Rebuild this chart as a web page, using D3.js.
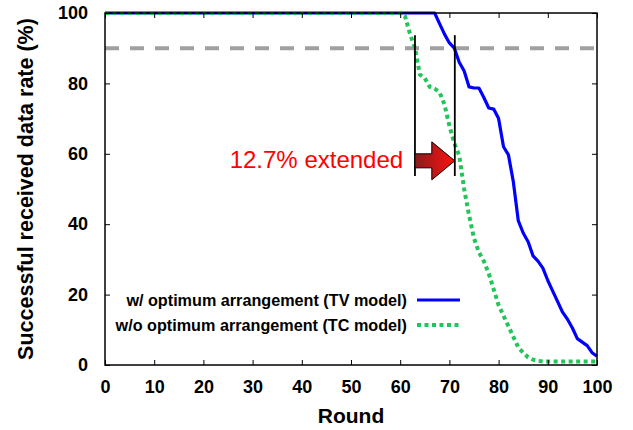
<!DOCTYPE html>
<html>
<head>
<meta charset="utf-8">
<script src="https://cdn.jsdelivr.net/npm/d3@7"></script>
<style>
  body { margin: 0; background: #fff; }
  text { font-family: "Liberation Sans", Arial, sans-serif; }
</style>
</head>
<body>
<div id="chart"></div>
<script>
// data
const tvPoints = [
  [0, 100], [66, 100], [67, 100], [68, 97], [69, 94], [70, 91.5], [71, 90],
  [72, 86], [73, 83.5], [74, 79], [75, 78.7], [76, 78.7], [77, 76], [78, 73],
  [79, 72.7], [80, 70], [81, 62], [82, 59.7], [83, 52], [84, 41], [85, 37.5],
  [86, 35], [87, 31], [88, 29.5], [89, 27.5], [90, 24], [91, 21], [92, 18],
  [93, 15], [94, 13], [95, 10.5], [96, 7.5], [97, 6.5], [98, 5.5], [99, 3.5],
  [100, 2.5]
];
const tcPoints = [
  [0, 100], [60, 100], [61, 99], [62, 94], [63, 90], [64, 82.5], [65, 81.5],
  [66, 79], [67, 78.5], [68, 77.5], [69, 74], [70, 68], [71, 63], [72, 59.5],
  [73, 50], [74, 42.5], [75, 36], [76, 32], [77, 29.5], [78, 26], [79, 21.5],
  [80, 17], [81, 14], [82, 11], [83, 8], [84, 5], [85, 3.5], [86, 2.2],
  [87, 1.5], [88, 1.2], [89, 1], [100, 1]
];
const seriesNames = [
  "w/ optimum arrangement (TV model)",
  "w/o optimum arrangement (TC model)"
];
const xTicks = d3.range(0, 101, 10);
const yTicks = d3.range(0, 101, 20);
const thresholdLevel = 90;
// annotation: marker lines at the two rounds where rate hits 90%
const markRounds = [63, 71.1];
const markSpan = [93.7, 53.7];
const arrowLevel = 58;
const annotText = "12.7% extended";

// set the dimensions and margins of the graph
const margin = { top: 13, right: 36, bottom: 65, left: 105 },
  width = 633 - margin.left - margin.right,
  height = 430 - margin.top - margin.bottom;

const svgRoot = d3
  .select("#chart")
  .append("svg")
  .attr("width", 633)
  .attr("height", 430);

const defs = svgRoot.append("defs");
const grad = defs.append("linearGradient").attr("id", "arrowGrad")
  .attr("x1", "0%").attr("x2", "100%").attr("y1", "0%").attr("y2", "0%");
grad.append("stop").attr("offset", "0%").attr("stop-color", "#8a1c1c");
grad.append("stop").attr("offset", "100%").attr("stop-color", "#ff1010");

const svg = svgRoot.append("g")
  .attr("transform", `translate(${margin.left}, ${margin.top})`);

const x = d3.scaleLinear().domain([0, 100]).range([0, width]);
const y = d3.scaleLinear().domain([0, 100]).range([height, 0]);

// threshold dashed line
svg.append("line")
  .attr("x1", x(0)).attr("x2", x(100))
  .attr("y1", y(thresholdLevel)).attr("y2", y(thresholdLevel))
  .attr("stroke", "#a0a0a0")
  .attr("stroke-width", 4)
  .attr("stroke-dasharray", "14,11");

const line = d3.line()
  .x(function (d) { return x(d[0]); })
  .y(function (d) { return y(d[1]); });

// blue solid line
svg.append("path")
  .datum(tvPoints)
  .attr("fill", "none")
  .attr("stroke", "#0000ff")
  .attr("stroke-width", 3.2)
  .attr("stroke-linejoin", "round")
  .attr("d", line);

// green dotted line
svg.append("path")
  .datum(tcPoints)
  .attr("fill", "none")
  .attr("stroke", "#22c55a")
  .attr("stroke-width", 4)
  .attr("stroke-dasharray", "4,3.5")
  .attr("d", line);

// marker lines
markRounds.forEach(function (r) {
  svg.append("line")
    .attr("x1", x(r)).attr("x2", x(r))
    .attr("y1", y(markSpan[0])).attr("y2", y(markSpan[1]))
    .attr("stroke", "#000")
    .attr("stroke-width", 1.8);
});

// arrow
const ax0 = x(markRounds[0]), ax1 = x(markRounds[1]), ay = y(arrowLevel);
const headW = 23, shaftH = 7, headH = 19;
svg.append("path")
  .attr("d", d3.line()([
    [ax0, ay - shaftH], [ax1 - headW, ay - shaftH], [ax1 - headW, ay - headH],
    [ax1, ay], [ax1 - headW, ay + headH], [ax1 - headW, ay + shaftH],
    [ax0, ay + shaftH]
  ]) + "Z")
  .attr("fill", "url(#arrowGrad)")
  .attr("stroke", "#000")
  .attr("stroke-width", 1);

svg.append("text")
  .attr("x", x(60.6))
  .attr("y", y(56))
  .attr("text-anchor", "end")
  .attr("fill", "#ff0000")
  .style("font-size", "24px")
  .text(annotText);

// frame
svg.append("rect")
  .attr("width", width).attr("height", height)
  .attr("fill", "none")
  .attr("stroke", "#000")
  .attr("stroke-width", 1.5);

// axes with inner ticks
const axisFont = function (g) {
  g.select(".domain").remove();
  g.selectAll("text")
    .style("font-size", "18px")
    .style("font-weight", "bold")
    .attr("fill", "#000");
};
svg.append("g")
  .attr("transform", `translate(0, ${height})`)
  .call(d3.axisBottom(x).tickValues(xTicks).tickSize(-5).tickPadding(15))
  .call(axisFont);
svg.append("g")
  .call(d3.axisLeft(y).tickValues(yTicks).tickSize(-5).tickPadding(17))
  .call(axisFont);
svg.append("g")
  .call(d3.axisTop(x).tickValues(xTicks).tickSize(-5).tickFormat(""))
  .call(function (g) { g.select(".domain").remove(); });
svg.append("g")
  .attr("transform", `translate(${width}, 0)`)
  .call(d3.axisRight(y).tickValues(yTicks).tickSize(-5).tickFormat(""))
  .call(function (g) { g.select(".domain").remove(); });

// axis titles
svg.append("text")
  .attr("x", x(50))
  .attr("y", height + 58)
  .attr("text-anchor", "middle")
  .style("font-size", "21px")
  .style("font-weight", "bold")
  .text("Round");

svg.append("text")
  .attr("transform", `translate(${-72}, ${height / 2}) rotate(-90)`)
  .attr("text-anchor", "middle")
  .style("font-size", "21.5px")
  .style("font-weight", "bold")
  .text("Successful received data rate (%)");

// legend
const legend = svg.append("g");
const legendStyles = [
  { stroke: "#0000ff", width: 3.2, dash: null },
  { stroke: "#22c55a", width: 4, dash: "4,3.5" }
];
seriesNames.forEach(function (name, i) {
  const ly = 287 + i * 25;
  legend.append("text")
    .attr("x", 302)
    .attr("y", ly + 6)
    .attr("text-anchor", "end")
    .style("font-size", "16.2px")
    .style("font-weight", "bold")
    .text(name);
  legend.append("line")
    .attr("x1", 312).attr("x2", 355)
    .attr("y1", ly).attr("y2", ly)
    .attr("stroke", legendStyles[i].stroke)
    .attr("stroke-width", legendStyles[i].width)
    .attr("stroke-dasharray", legendStyles[i].dash);
});
</script>
</body>
</html>
